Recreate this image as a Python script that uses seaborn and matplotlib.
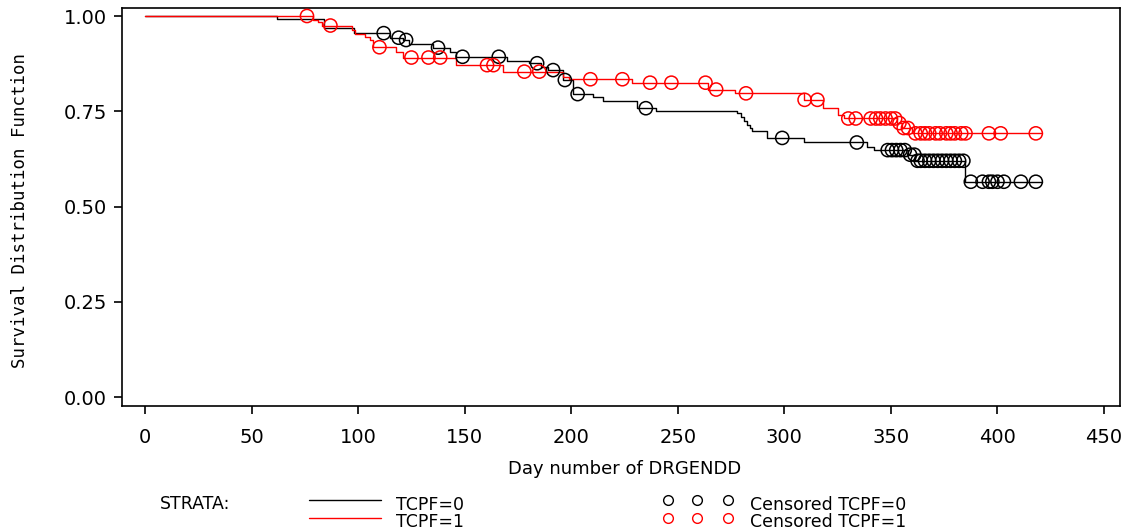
import numpy as np
import pandas as pd
import matplotlib
matplotlib.use("Agg")
import matplotlib.pyplot as plt
import seaborn as sns
from matplotlib.lines import Line2D

# ---------------- data ----------------
# TCPF=0 Kaplan-Meier step curve
t0_times = [0, 62, 84, 98, 115, 121, 124, 135, 143, 146, 170, 180, 186, 189, 196,
            201, 210, 215, 231, 240, 278, 279.5, 281, 282.5, 284, 285, 292, 309,
            339, 342, 358, 361.5, 385, 421]
t0_surv = [1.000, 0.992, 0.968, 0.955, 0.943, 0.937, 0.926, 0.917, 0.905, 0.893,
           0.882, 0.876, 0.865, 0.858, 0.832, 0.795, 0.787, 0.778, 0.758, 0.751,
           0.745, 0.735, 0.725, 0.715, 0.705, 0.697, 0.680, 0.668, 0.656, 0.648,
           0.636, 0.620, 0.565, 0.565]
# TCPF=0 censored times
t0_cens = [112, 119, 122.5, 137.5, 149, 166, 184, 191.5, 197, 203, 235, 299, 334,
           348.5, 350.5, 352.5, 354.5, 356.5, 359, 361, 362.5, 364, 366, 368, 370,
           372, 374, 376, 378, 380, 382, 384, 387.5, 393, 396, 397.6, 400, 403,
           411, 418]

# TCPF=1 Kaplan-Meier step curve
t1_times = [0, 79, 81, 83, 97, 98.5, 103, 105.5, 107, 118, 121, 146, 168, 196, 199,
            228.5, 264, 277, 309, 318, 325, 328, 353, 355, 360, 421]
t1_surv = [1.000, 0.990, 0.985, 0.975, 0.963, 0.952, 0.944, 0.937, 0.918, 0.906,
           0.891, 0.871, 0.854, 0.841, 0.834, 0.825, 0.807, 0.797, 0.780, 0.758,
           0.740, 0.731, 0.719, 0.706, 0.692, 0.692]
# TCPF=1 censored times
t1_cens = [76, 87, 110, 125, 133, 138.5, 160.5, 163.5, 178, 185, 209, 224, 237,
           247, 263, 268, 282, 309.5, 315.5, 330, 333.5, 340.5, 343, 345, 347.5,
           350, 352, 354, 356, 358, 361.5, 364, 366, 368, 371, 373, 376, 378, 380,
           383, 385, 396, 401.5, 418]

x_ticks = [0, 50, 100, 150, 200, 250, 300, 350, 400, 450]
y_ticks = [0.00, 0.25, 0.50, 0.75, 1.00]
y_ticklabels = ["0.00", "0.25", "0.50", "0.75", "1.00"]
strata_labels = ["TCPF=0", "TCPF=1"]
censor_labels = ["Censored TCPF=0", "Censored TCPF=1"]
x_label = "Day number of DRGENDD"
y_label = "Survival Distribution Function"


def surv_at(times, surv, tc):
    times = np.asarray(times)
    surv = np.asarray(surv)
    idx = np.searchsorted(times, np.asarray(tc), side="right") - 1
    return surv[idx]


curve0 = pd.DataFrame({"t": t0_times, "s": t0_surv})
curve1 = pd.DataFrame({"t": t1_times, "s": t1_surv})
cens0 = pd.DataFrame({"t": t0_cens, "s": surv_at(t0_times, t0_surv, t0_cens)})
cens1 = pd.DataFrame({"t": t1_cens, "s": surv_at(t1_times, t1_surv, t1_cens)})

# ---------------- figure ----------------
sns.set_theme(style="white")
plt.rcParams["font.family"] = ["DejaVu Sans"]

W, H = 1127, 531
fig = plt.figure(figsize=(W / 100, H / 100), dpi=100)
ax = fig.add_axes([122 / W, 1 - 406 / H, (1120 - 122) / W, (406 - 8) / H])

c0, c1 = "black", "#ff0000"

sns.lineplot(data=curve0, x="t", y="s", ax=ax, color=c0, lw=1.0,
             drawstyle="steps-post", estimator=None, sort=False)
sns.lineplot(data=curve1, x="t", y="s", ax=ax, color=c1, lw=1.0,
             drawstyle="steps-post", estimator=None, sort=False)
sns.scatterplot(data=cens0, x="t", y="s", ax=ax, marker="o", s=90,
                facecolor="none", edgecolor=c0, linewidth=1.1, zorder=3)
sns.scatterplot(data=cens1, x="t", y="s", ax=ax, marker="o", s=90,
                facecolor="none", edgecolor=c1, linewidth=1.1, zorder=4)

ax.set_xlim(-10.8, 457.5)
ax.set_ylim(-0.0236, 1.021)
ax.set_xticks(x_ticks)
ax.set_xticklabels([str(v) for v in x_ticks])
ax.set_yticks(y_ticks)
ax.set_yticklabels(y_ticklabels)
ax.tick_params(axis="both", direction="out", length=6, width=1.2, color="black",
               labelsize=14, labelcolor="black", bottom=True, left=True)
ax.tick_params(axis="x", pad=10)
ax.tick_params(axis="y", pad=5)
for sp in ax.spines.values():
    sp.set_visible(True)
    sp.set_color("black")
    sp.set_linewidth(1.2)

ax.set_xlabel("")
ax.set_ylabel("")
fig.text(625 / W, 1 - 469 / H, x_label, ha="center", va="center",
         fontsize=13, color="black")
fig.text(20 / W, 1 - 210 / H, y_label, ha="center", va="center",
         rotation=90, fontsize=12.5, color="black", family=["DejaVu Sans Mono"])

# ---------------- legend (drawn in figure coordinates) ----------------
fig.text(160 / W, 1 - 504 / H, "STRATA:", ha="left", va="center",
         fontsize=12.5, color="black")
rows_y = [500, 518]
text_y = [505, 522]
for i, (col, lab, clab) in enumerate(zip([c0, c1], strata_labels, censor_labels)):
    yl = 1 - rows_y[i] / H
    fig.add_artist(Line2D([309 / W, 381 / W], [yl, yl], color=col, lw=1.0,
                          transform=fig.transFigure))
    fig.text(396 / W, 1 - text_y[i] / H, lab, ha="left", va="center",
             fontsize=12.5, color="black")
    for mx in [668, 697, 728]:
        fig.add_artist(Line2D([mx / W], [yl], marker="o", markersize=7,
                              markerfacecolor="none", markeredgecolor=col,
                              markeredgewidth=1.0, linestyle="none",
                              transform=fig.transFigure))
    fig.text(750 / W, 1 - text_y[i] / H, clab, ha="left", va="center",
             fontsize=12.5, color="black")

fig.savefig("out.png", dpi=100, facecolor="white")
